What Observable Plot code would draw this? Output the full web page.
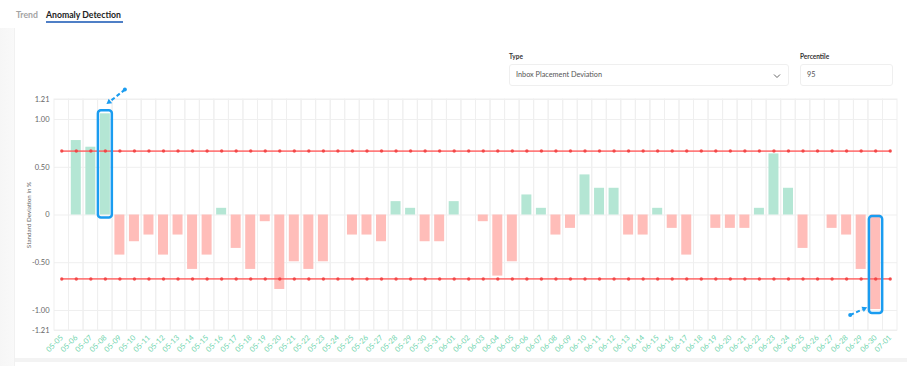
<!DOCTYPE html>
<html><head><meta charset="utf-8">
<script src="https://cdn.jsdelivr.net/npm/d3@7"></script>
<script src="https://cdn.jsdelivr.net/npm/@observablehq/plot@0.6"></script>
<style>
body{margin:0;width:907px;height:366px;overflow:hidden;background:#fff;font-family:Lato,"Noto Sans",sans-serif;position:relative}
.lstrip{position:absolute;left:0;top:28px;width:14px;height:338px;background:linear-gradient(to right,#f6f6f6,#f9f9f9);border-right:1px solid #f1f1f1}
.bstrip{position:absolute;left:15px;top:358px;width:892px;height:4px;background:#f3f3f3}
.tab{position:absolute;top:8px;font-size:8.7px;font-weight:700;line-height:13px;white-space:nowrap}
.t1{left:16px;color:#a3a3a3}
.t2{left:46px;color:#222}
.uline{position:absolute;left:46px;top:21px;width:77px;height:2px;background:#4f7fc6}
.lbl{position:absolute;top:52px;font-size:6.5px;font-weight:700;color:#333;line-height:10px}
.box{position:absolute;top:64px;height:22px;border:1px solid #efefef;border-radius:3px;box-sizing:border-box;font-size:7.3px;color:#555;line-height:20px;padding-left:6px;background:#fff}
#chart{position:absolute;left:0;top:90px}
</style>
</head><body>
<div class="lstrip"></div>
<div class="bstrip"></div>
<div class="tab t1">Trend</div>
<div class="tab t2">Anomaly Detection</div>
<div class="uline"></div>
<div class="lbl" style="left:509px">Type</div>
<div class="box" style="left:509px;width:280px">Inbox Placement Deviation
<svg width="8" height="6" style="position:absolute;right:7px;top:8px"><path d="M1,1.5 L4,4.5 L7,1.5" fill="none" stroke="#666" stroke-width="1"/></svg></div>
<div class="lbl" style="left:800px">Percentile</div>
<div class="box" style="left:800px;width:93px">95</div>
<div id="chart"></div>
<script>
const dates = ["05-05","05-06","05-07","05-08","05-09","05-10","05-11","05-12","05-13","05-14","05-15","05-16","05-17","05-18","05-19","05-20","05-21","05-22","05-23","05-24","05-25","05-26","05-27","05-28","05-29","05-30","05-31","06-01","06-02","06-03","06-04","06-05","06-06","06-07","06-08","06-09","06-10","06-11","06-12","06-13","06-14","06-15","06-16","06-17","06-18","06-19","06-20","06-21","06-22","06-23","06-24","06-25","06-26","06-27","06-28","06-29","06-30","07-01"];
const values = [0,0.78,0.71,1.06,-0.42,-0.28,-0.21,-0.42,-0.21,-0.57,-0.42,0.07,-0.35,-0.57,-0.07,-0.78,-0.49,-0.57,-0.49,0,-0.21,-0.21,-0.28,0.14,0.07,-0.28,-0.28,0.14,0,-0.07,-0.64,-0.49,0.21,0.07,-0.21,-0.14,0.42,0.28,0.28,-0.21,-0.21,0.07,-0.14,-0.42,0,-0.14,-0.14,-0.14,0.07,0.64,0.28,-0.35,0,-0.14,-0.21,-0.57,-0.99,0];
const upperThreshold = 0.67;
const lowerThreshold = -0.67;
const yTicks = [-1.21,-1,-0.5,0,0.5,1,1.21];
const yTickLabels = ["-1.21","-1.00","-0.50","0","0.50","1.00","1.21"];
const anomalyHigh = ["05-08"];
const anomalyLow = ["06-30"];

const data = dates.map((d,i)=>({date:d, value:values[i]}));
const pos = data.filter(d=>d.value>0);
const neg = data.filter(d=>d.value<0);
const hi = data.filter(d=>anomalyHigh.includes(d.date));
const lo = data.filter(d=>anomalyLow.includes(d.date));

const GREEN="#b4e6d4", PINK="#ffbdb9", RED="#ff5c5c", BLUE="#1a9cf0";

const plot = Plot.plot({
  width: 907, height: 268,
  marginLeft: 54, marginRight: 10, marginTop: 9, marginBottom: 28,
  style: {background:"none", fontFamily:"Lato, sans-serif", overflow:"visible"},
  x: {type:"band", domain: dates, padding: 0, axis: null},
  y: {domain: [-1.21, 1.21], axis: null},
  marks: [
    Plot.barY(dates, {x: d=>d, y1: ()=>-1.21, y2: ()=>1.21, fill:"none", stroke:"#efefef", strokeWidth:1}),
    Plot.ruleY(yTicks, {stroke:"#efefef", strokeWidth:1}),
    Plot.barY(pos, {x:"date", y1: ()=>0, y2:"value", fill: GREEN, insetLeft:2.27, insetRight:2.27}),
    Plot.barY(neg, {x:"date", y1: ()=>0, y2:"value", fill: PINK, insetLeft:2.27, insetRight:2.27}),
    Plot.lineY(dates, {x: d=>d, y: ()=>upperThreshold, stroke: RED, strokeWidth:1.8, strokeOpacity:0.8}),
    Plot.lineY(dates, {x: d=>d, y: ()=>lowerThreshold, stroke: RED, strokeWidth:1.8, strokeOpacity:0.8}),
    Plot.dot(dates, {x: d=>d, y: ()=>upperThreshold, r:1.7, fill:"#f03c3c", fillOpacity:0.85}),
    Plot.dot(dates, {x: d=>d, y: ()=>lowerThreshold, r:1.7, fill:"#f03c3c", fillOpacity:0.85}),
    Plot.barY(hi, {x:"date", y1: ()=>0, y2:"value", fill:"none", stroke: BLUE, strokeWidth:2.5, rx:3, insetLeft:0.3, insetRight:0.3, insetTop:-3, insetBottom:-3}),
    Plot.barY(lo, {x:"date", y1: ()=>0, y2:"value", fill:"none", stroke: BLUE, strokeWidth:2.5, rx:3, insetLeft:1, insetRight:0.3, insetTop:1.5, insetBottom:-4}),
    Plot.axisY(yTicks, {tickFormat: d => yTickLabels[yTicks.indexOf(d)], tickSize:0, tickPadding:5, color:"#666", fontSize:7.5, label:null}),
    Plot.axisX({tickRotate:-45, tickSize:0, tickPadding:6, color:"#6fd4ad", fontSize:7.5, label:null}),
    Plot.text(["Standard Deviation in %"], {frameAnchor:"left", textAnchor:"middle", dx:-26, rotate:-90, fontSize:6.3, fill:"#666"})
  ]
});
document.getElementById("chart").appendChild(plot);

// dashed pointer arrows toward the anomaly boxes, positioned with the plot's scales
const svg = d3.select(plot);
const xs = plot.scale("x"), ys = plot.scale("y");
function pointer(date, value, tip, tail){
  const cx = xs.apply(date) + xs.bandwidth/2, cy = ys.apply(value);
  const tx = cx+tip[0], ty = cy+tip[1], sx = cx+tail[0], sy = cy+tail[1];
  const dx = tx-sx, dy = ty-sy, L = Math.hypot(dx,dy), ux = dx/L, uy = dy/L;
  const hl = 5, hw = 2.8;
  const bx = tx-ux*hl, by = ty-uy*hl;
  const g = svg.append("g");
  g.append("line").attr("x1",sx).attr("y1",sy).attr("x2",bx).attr("y2",by)
    .attr("stroke",BLUE).attr("stroke-width",2).attr("stroke-dasharray","4,2.5");
  g.append("path").attr("d",`M${tx},${ty}L${bx-uy*hw},${by+ux*hw}L${bx+uy*hw},${by-ux*hw}Z`).attr("fill",BLUE);
  g.append("circle").attr("cx",sx).attr("cy",sy).attr("r",2).attr("fill",BLUE);
}
pointer(anomalyHigh[0], values[dates.indexOf(anomalyHigh[0])], [1.6,-9.2], [20,-23.7]);
pointer(anomalyLow[0], values[dates.indexOf(anomalyLow[0])], [-8,-1.7], [-25,6]);
</script>
</body></html>
